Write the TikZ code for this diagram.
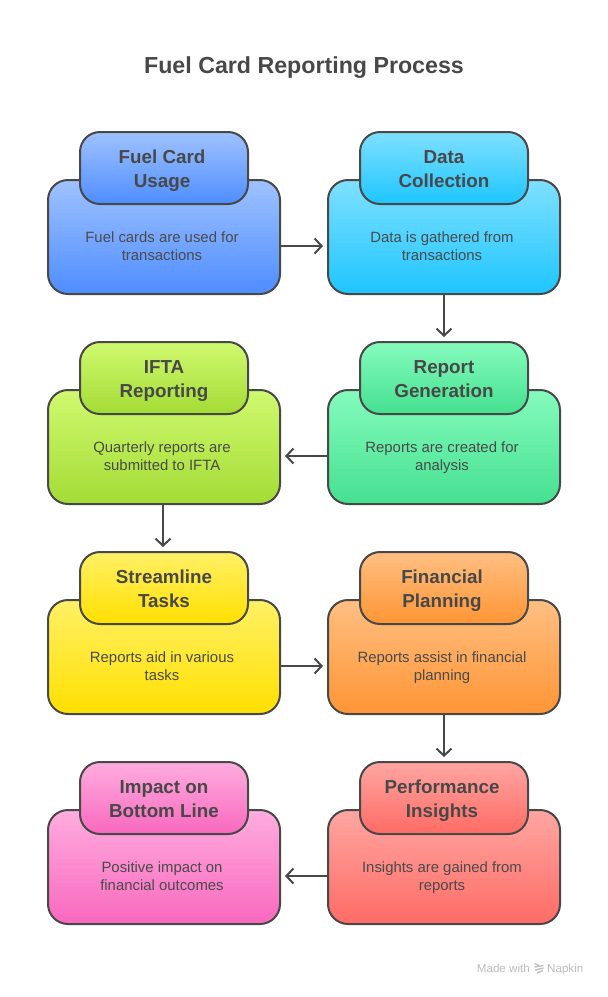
\documentclass[tikz,border=0pt]{standalone}
\usepackage{fontspec}
\setmainfont{Liberation Sans}
\usetikzlibrary{arrows.meta}
\definecolor{ink}{HTML}{484848}
\definecolor{bodyink}{HTML}{4A4A4A}
\definecolor{faint}{HTML}{BDBDBD}
\definecolor{blueA}{HTML}{9FC2FF}\definecolor{blueB}{HTML}{4E8DFF}
\definecolor{cyanA}{HTML}{7FE0FF}\definecolor{cyanB}{HTML}{1EC5FF}
\definecolor{limeA}{HTML}{D0F96F}\definecolor{limeB}{HTML}{A3DC35}
\definecolor{mintA}{HTML}{85FBBD}\definecolor{mintB}{HTML}{45E090}
\definecolor{yelA}{HTML}{FFF066}\definecolor{yelB}{HTML}{FFE000}
\definecolor{oraA}{HTML}{FFBF82}\definecolor{oraB}{HTML}{FF9535}
\definecolor{redA}{HTML}{FFA6A2}\definecolor{redB}{HTML}{FF6B65}
\definecolor{pinkA}{HTML}{FFADDF}\definecolor{pinkB}{HTML}{F868BE}
\tikzset{
  x=1pt,y=-1pt,
  cardbox/.style={draw=ink,line width=2pt,rounded corners=20pt,inner sep=0pt,outer sep=0pt,anchor=north west},
  lowerbox/.style={cardbox,minimum width=232pt,minimum height=114pt},
  upperbox/.style={cardbox,minimum width=168pt,minimum height=72pt},
  headtext/.style={text=ink,align=center,font=\bfseries\fontsize{18.8}{24}\selectfont,inner sep=0pt},
  desctext/.style={text=bodyink,align=center,font=\fontsize{14.9}{18}\selectfont,inner sep=0pt},
  flow/.style={draw=ink,line width=2pt,-{Straight Barb[length=7pt,width=15pt,line width=2pt]},shorten >=5pt},
}
% name, left x of lower box, top y of lower box, colours, heading, description, heading centre x
\newcommand{\cardunit}[8]{%
  \node[lowerbox,top color=#4,bottom color=#5] (#1low) at (#2,#3) {};
  \node[upperbox,top color=#4,bottom color=#5] (#1up) at (#2+32,#3-48) {};
  \node[headtext] (#1head) at (#8,#3-9.8) {\strut #6\strut};
  \node[desctext] (#1desc) at (#2+114,#3+67.4) {\strut #7\strut};
}
\begin{document}
\begin{tikzpicture}
\useasboundingbox (0,0) rectangle (608,997);
\fill[white] (0,0) rectangle (608,997);
\node[text=ink,font=\bfseries\fontsize{23.2}{28}\selectfont,inner sep=0pt] (title) at (304,68) {Fuel Card Reporting Process};

\cardunit{usage}{48}{180}{blueA}{blueB}{Fuel Card\\Usage}{Fuel cards are used for\\transactions}{162}
\cardunit{collect}{328}{180}{cyanA}{cyanB}{Data\\Collection}{Data is gathered from\\transactions}{444}
\cardunit{ifta}{48}{390}{limeA}{limeB}{IFTA\\Reporting}{Quarterly reports are\\submitted to IFTA}{164}
\cardunit{report}{328}{390}{mintA}{mintB}{Report\\Generation}{Reports are created for\\analysis}{444}
\cardunit{tasks}{48}{600}{yelA}{yelB}{Streamline\\Tasks}{Reports aid in various\\tasks}{164}
\cardunit{finance}{328}{600}{oraA}{oraB}{Financial\\Planning}{Reports assist in financial\\planning}{442}
\cardunit{impact}{48}{810}{pinkA}{pinkB}{Impact on\\Bottom Line}{Positive impact on\\financial outcomes}{164}
\cardunit{insight}{328}{810}{redA}{redB}{Performance\\Insights}{Insights are gained from\\reports}{442}

\draw[flow] ([yshift=-9pt]usagelow.east) -- ([yshift=-9pt]collectlow.west);
\draw[flow] (collectlow.south) -- (reportup.north);
\draw[flow] ([yshift=-9pt]reportlow.west) -- ([yshift=-9pt]iftalow.east);
\draw[flow] ([xshift=-1pt]iftalow.south) -- ([xshift=-1pt]tasksup.north);
\draw[flow] ([yshift=-9pt]taskslow.east) -- ([yshift=-9pt]financelow.west);
\draw[flow] (financelow.south) -- (insightup.north);
\draw[flow] ([yshift=-9pt]insightlow.west) -- ([yshift=-9pt]impactlow.east);

\node[text=faint,font=\fontsize{11.6}{13}\selectfont,inner sep=0pt,anchor=base east] (madewith) at (530,972) {Made with};
\node[text=faint,font=\fontsize{11.6}{13}\selectfont,inner sep=0pt,anchor=base west] (napkin) at (547,972) {Napkin};
\draw[faint,line width=1.3pt] (534.5,963.5) -- (539,965.5) (534.5,967) -- (543.5,965.5) (535,970) -- (543.5,968) (537,973) -- (543,970.5);
\end{tikzpicture}
\end{document}
